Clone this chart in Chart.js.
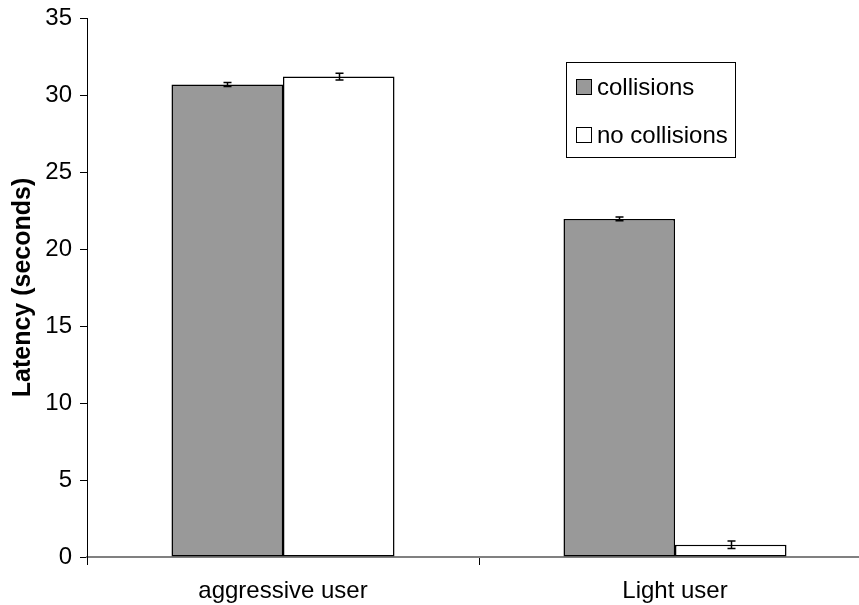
<!DOCTYPE html>
<html>
<head>
<meta charset="utf-8">
<script src="https://cdn.jsdelivr.net/npm/chart.js@4/dist/chart.umd.min.js"></script>
<style>
  html, body { margin: 0; padding: 0; background: #fff; overflow: hidden; }
  #wrap { width: 859px; height: 605px; overflow: hidden; }
  canvas { display: block; }
</style>
</head>
<body>
<div id="wrap"><canvas id="chart" width="872" height="605"></canvas></div>
<script>
// Mean latency per user type, with and without collisions
const categories = ['aggressive user', 'Light user'];
const seriesNames = ['collisions', 'no collisions'];
const collisionsValues = [30.68, 21.95];
const noCollisionsValues = [31.2, 0.8];
const collisionsErrors = [0.13, 0.12];
const noCollisionsErrors = [0.22, 0.24];
const yTicks = [0, 5, 10, 15, 20, 25, 30, 35];

const FONT = "'Liberation Sans', Arial, Helvetica, sans-serif";

// Error bars drawn at each bar's centre from the value ± error
const errorBars = {
  id: 'errorBars',
  afterDatasetsDraw(chart) {
    const { ctx, scales: { y } } = chart;
    ctx.save();
    ctx.strokeStyle = '#000';
    ctx.lineWidth = 1.5;
    chart.data.datasets.forEach((ds, i) => {
      const meta = chart.getDatasetMeta(i);
      meta.data.forEach((bar, j) => {
        const v = ds.data[j], e = ds.errors[j];
        const x = Math.round(bar.x) + 0.5;
        const yTop = y.getPixelForValue(v + e);
        const yBot = y.getPixelForValue(v - e);
        ctx.beginPath();
        ctx.moveTo(x, yTop); ctx.lineTo(x, yBot);
        ctx.moveTo(x - 4, yTop); ctx.lineTo(x + 4, yTop);
        ctx.moveTo(x - 4, yBot); ctx.lineTo(x + 4, yBot);
        ctx.stroke();
      });
    });
    ctx.restore();
  }
};

// Boxed legend in the upper right of the plot
const boxLegend = {
  id: 'boxLegend',
  afterDraw(chart) {
    const { ctx } = chart;
    ctx.save();
    ctx.strokeStyle = '#000';
    ctx.lineWidth = 1;
    ctx.strokeRect(566.5, 62.5, 169, 95);
    ctx.font = '24px ' + FONT;
    ctx.textBaseline = 'middle';
    ctx.fillStyle = '#000';
    const rows = [87, 135];
    chart.data.datasets.forEach((ds, i) => {
      const cy = rows[i];
      ctx.fillStyle = ds.backgroundColor;
      ctx.fillRect(576.5, cy - 7.5, 15, 15);
      ctx.strokeRect(576.5, cy - 7.5, 15, 15);
      ctx.fillStyle = '#000';
      ctx.fillText(ds.label, 597, cy + 1);
    });
    ctx.restore();
  }
};

new Chart(document.getElementById('chart'), {
  type: 'bar',
  data: {
    labels: categories,
    datasets: [
      {
        label: seriesNames[0],
        data: collisionsValues,
        errors: collisionsErrors,
        backgroundColor: '#999999',
        borderColor: '#000',
        borderWidth: 1.5,
        borderSkipped: false
      },
      {
        label: seriesNames[1],
        data: noCollisionsValues,
        errors: noCollisionsErrors,
        backgroundColor: '#ffffff',
        borderColor: '#000',
        borderWidth: 1.5,
        borderSkipped: false
      }
    ]
  },
  options: {
    responsive: false,
    animation: false,
    layout: { padding: { top: 18, right: 1, left: 0, bottom: 0 } },
    datasets: { bar: { categoryPercentage: 0.569, barPercentage: 1.0 } },
    plugins: {
      legend: { display: false },
      tooltip: { enabled: false }
    },
    scales: {
      x: {
        grid: { offset: true, drawOnChartArea: false, tickLength: 8, color: '#000', lineWidth: 1 },
        border: { color: '#808080', width: 2 },
        ticks: { color: '#000', font: { family: FONT, size: 24 }, padding: 12, maxRotation: 0 },
        afterFit(scale) { scale.height = 48; scale.paddingLeft = 0; scale.paddingRight = 0; }
      },
      y: {
        min: 0,
        max: 35,
        afterBuildTicks(scale) { scale.ticks = yTicks.map(v => ({ value: v })); },
        grid: { drawOnChartArea: false, tickLength: 7, color: '#000', lineWidth: 1 },
        border: { color: '#000', width: 1 },
        ticks: { color: '#000', font: { family: FONT, size: 24 }, padding: 8 },
        title: {
          display: true,
          text: 'Latency (seconds)',
          color: '#000',
          font: { family: FONT, size: 25, weight: 'bold' },
          padding: { top: 8, bottom: 0 }
        },
        afterFit(scale) { scale.width = 87; scale.paddingTop = 0; scale.paddingBottom = 0; }
      }
    }
  },
  plugins: [errorBars, boxLegend]
});
</script>
</body>
</html>
